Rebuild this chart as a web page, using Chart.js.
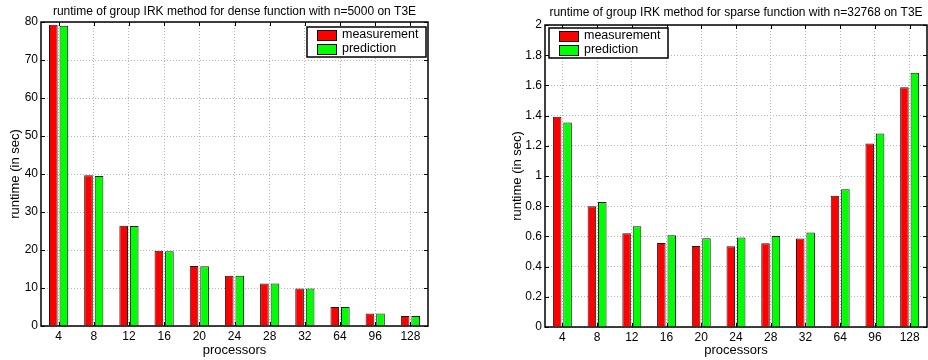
<!DOCTYPE html>
<html><head><meta charset="utf-8">
<script src="https://cdn.jsdelivr.net/npm/chart.js@4"></script>
<style>
html,body{margin:0;padding:0;background:#fff;width:928px;height:360px;overflow:hidden}
.wrap{position:absolute;top:0;width:464px;height:360px}
#wrapL{left:0}
#wrapR{left:464px}
</style></head><body>
<div id="wrapL" class="wrap"><canvas id="cL" width="464" height="360"></canvas></div>
<div id="wrapR" class="wrap"><canvas id="cR" width="464" height="360"></canvas></div>
<script>
const processors = ['4','8','12','16','20','24','28','32','64','96','128'];
const denseMeasurement = [79.3, 39.7, 26.4, 19.8, 15.8, 13.2, 11.2, 9.9, 5.0, 3.3, 2.6];
const densePrediction  = [79.0, 39.5, 26.3, 19.7, 15.7, 13.2, 11.2, 9.9, 5.0, 3.3, 2.6];
const sparseMeasurement = [1.393, 0.800, 0.621, 0.557, 0.537, 0.535, 0.555, 0.586, 0.869, 1.216, 1.587];
const sparsePrediction  = [1.355, 0.827, 0.668, 0.608, 0.588, 0.593, 0.603, 0.626, 0.913, 1.282, 1.684];
const denseYTicks = [0, 10, 20, 30, 40, 50, 60, 70, 80];
const denseYLabels = ['0','10','20','30','40','50','60','70','80'];
const sparseYTicks = [0, 0.2, 0.4, 0.6, 0.8, 1, 1.2, 1.4, 1.6, 1.8, 2];
const sparseYLabels = ['0','0.2','0.4','0.6','0.8','1','1.2','1.4','1.6','1.8','2'];
const seriesNames = ['measurement', 'prediction'];
const denseTitle = 'runtime of group IRK method for dense function with n=5000 on T3E';
const sparseTitle = 'runtime of group IRK method for sparse function with n=32768 on T3E';
const xTitle = 'processors';
const yTitle = 'runtime (in sec)';

const FONT = '"Liberation Sans", Arial, Helvetica, sans-serif';

const boxPlugin = {
  id: 'axesBox',
  afterDatasetsDraw(chart) {
    const {ctx, chartArea: a, scales: {x, y}} = chart;
    const L = 4;
    ctx.save();
    ctx.strokeStyle = '#000';
    ctx.lineWidth = 1;
    ctx.beginPath();
    y.ticks.forEach((t, i) => {
      const py = Math.round(y.getPixelForTick(i)) + 0.5;
      ctx.moveTo(a.left, py); ctx.lineTo(a.left + L, py);
      ctx.moveTo(a.right, py); ctx.lineTo(a.right - L, py);
    });
    x.ticks.forEach((t, i) => {
      const px = Math.round(x.getPixelForTick(i)) + 0.5;
      ctx.moveTo(px, a.bottom); ctx.lineTo(px, a.bottom - L);
      ctx.moveTo(px, a.top); ctx.lineTo(px, a.top + L);
    });
    ctx.stroke();
    ctx.lineWidth = 1.5;
    ctx.strokeRect(Math.round(a.left), Math.round(a.top), Math.round(a.right - a.left), Math.round(a.bottom - a.top));
    ctx.restore();
  }
};

const legendPlugin = {
  id: 'boxLegend',
  afterDraw(chart, args, o) {
    const ctx = chart.ctx, a = chart.chartArea;
    ctx.save();
    ctx.font = '12.5px ' + FONT;
    const items = chart.data.datasets;
    const tw = Math.max(...items.map(d => ctx.measureText(d.label).width));
    const sw = 19, sh = 10;
    const w = Math.round(10 + sw + 6 + tw + 8), h = 30;
    const x0 = o.side === 'right' ? Math.round(a.right - o.dx - w) : Math.round(a.left + o.dx);
    const y0 = Math.round(a.top + o.dy);
    ctx.fillStyle = '#fff';
    ctx.fillRect(x0, y0, w, h);
    ctx.strokeStyle = '#000';
    ctx.lineWidth = 1.5;
    ctx.strokeRect(x0, y0, w, h);
    items.forEach((d, i) => {
      const cy = y0 + 8 + i * 13.8;
      ctx.fillStyle = d.backgroundColor;
      ctx.fillRect(x0 + 10, Math.round(cy - sh / 2), sw, sh);
      ctx.lineWidth = 1;
      ctx.strokeStyle = '#000';
      ctx.strokeRect(x0 + 10.5, Math.round(cy - sh / 2) + 0.5, sw, sh);
      ctx.fillStyle = '#000';
      ctx.textBaseline = 'middle';
      ctx.textAlign = 'left';
      ctx.fillText(d.label, x0 + 10 + sw + 6, cy);
    });
    ctx.restore();
  }
};

function makeChart(id, meas, pred, yTicks, yLabels, yMax, titleText, o) {
  return new Chart(document.getElementById(id), {
    type: 'bar',
    data: {
      labels: processors,
      datasets: [
        {label: seriesNames[0], data: meas, backgroundColor: '#ff0000', borderColor: '#1a1a1a', borderWidth: 1,
         categoryPercentage: 0.6, barPercentage: 0.82},
        {label: seriesNames[1], data: pred, backgroundColor: '#00ff00', borderColor: '#1a1a1a', borderWidth: 1,
         categoryPercentage: 0.6, barPercentage: 0.82}
      ]
    },
    options: {
      responsive: false,
      animation: false,
      layout: {padding: {left: 0, right: o.padR, top: 0, bottom: 0}},
      plugins: {
        legend: {display: false},
        tooltip: {enabled: false},
        title: {display: true, text: titleText, fullSize: false, color: '#000',
          font: {family: FONT, size: 12, weight: 'normal'}, padding: {top: o.tTop, bottom: o.tBot}},
        boxLegend: {side: o.legSide, dx: o.legDx, dy: o.legDy}
      },
      scales: {
        x: {
          offset: true,
          grid: {offset: false, color: '#b4b4b4', lineWidth: 1, drawTicks: false, borderDash: [1, 2]},
          border: {display: false, dash: [1, 2]},
          ticks: {color: '#000', font: {family: FONT, size: 12}, padding: 3, maxRotation: 0, autoSkip: false},
          title: {display: true, text: xTitle, color: '#000', font: {family: FONT, size: 13}, padding: {top: 0, bottom: 2}},
          afterFit: s => { s.height = o.xH; }
        },
        y: {
          min: 0, max: yMax,
          afterBuildTicks: s => { s.ticks = yTicks.map(v => ({value: v})); },
          grid: {color: '#b4b4b4', lineWidth: 1, drawTicks: false, borderDash: [1, 2]},
          border: {display: false, dash: [1, 2]},
          ticks: {color: '#000', font: {family: FONT, size: 12}, padding: 3,
            callback: (v) => { const i = yTicks.indexOf(v); return i >= 0 ? yLabels[i] : ''; }},
          title: {display: true, text: yTitle, color: '#000', font: {family: FONT, size: 13}, padding: {top: o.yTitlePad, bottom: 0}},
          afterFit: s => { s.width = o.yW; }
        }
      }
    },
    plugins: [boxPlugin, legendPlugin]
  });
}

makeChart('cL', denseMeasurement, densePrediction, denseYTicks, denseYLabels, 80, denseTitle,
  {padR: 36, tTop: 4, tBot: 3.6, xH: 34, yW: 41, yTitlePad: 8, legSide: 'right', legDx: 2, legDy: 4.7});
makeChart('cR', sparseMeasurement, sparsePrediction, sparseYTicks, sparseYLabels, 2, sparseTitle,
  {padR: 1, tTop: 5, tBot: 5.6, xH: 33, yW: 81, yTitlePad: 45.5, legSide: 'left', legDx: 4, legDy: 3.3});
</script>
</body></html>
